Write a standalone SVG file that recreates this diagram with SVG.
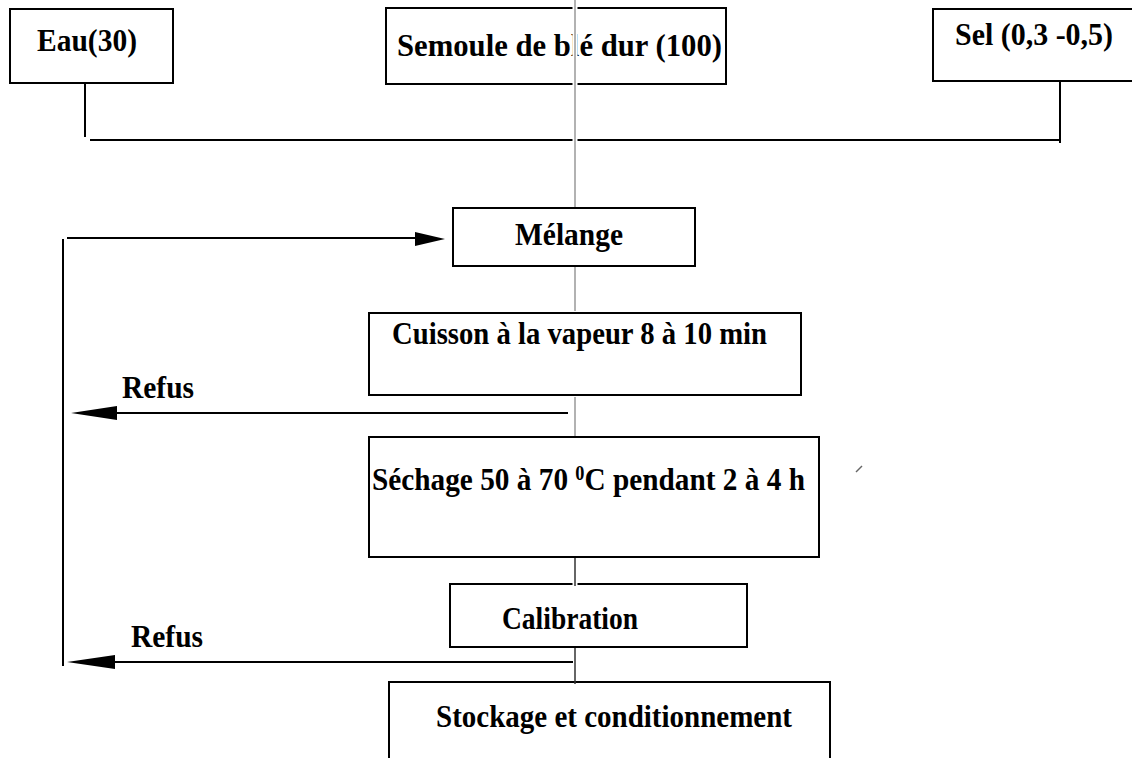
<svg xmlns="http://www.w3.org/2000/svg" width="1132" height="758" viewBox="0 0 1132 758">
<style>
.box{fill:#fff;stroke:#000;stroke-width:2}
.t{font-family:"Liberation Serif","Times New Roman",serif;font-weight:bold;font-size:32px;fill:#000}
.ln{stroke:#000;stroke-width:2;fill:none}
.halo{stroke:#fff;stroke-width:5;fill:none}
.gr{stroke:#999;stroke-width:1.5;fill:none}
.dk{stroke:#333;stroke-width:1.5;fill:none}
.ah{fill:#000}
</style>
<rect width="1132" height="758" fill="#fff"/>
<g id="eau">
<rect class="box" x="10" y="9" width="163" height="74"/>
<text class="t" x="37" y="51" textLength="100" lengthAdjust="spacingAndGlyphs">Eau(30)</text>
</g>
<g id="semoule">
<rect class="box" x="386" y="8" width="340" height="76"/>
<text class="t" x="397" y="56" textLength="325" lengthAdjust="spacingAndGlyphs">Semoule de blé dur (100)</text>
</g>
<g id="sel">
<rect class="box" x="933" y="9" width="210" height="72"/>
<text class="t" x="955" y="45" textLength="158" lengthAdjust="spacingAndGlyphs">Sel (0,3 -0,5)</text>
</g>
<g id="melange">
<rect class="box" x="453" y="208" width="242" height="58"/>
<text class="t" x="515" y="245" textLength="108" lengthAdjust="spacingAndGlyphs">Mélange</text>
</g>
<g id="cuisson">
<rect class="box" x="369" y="313" width="432" height="82"/>
<text class="t" x="392" y="344" textLength="375" lengthAdjust="spacingAndGlyphs">Cuisson à la vapeur 8 à 10 min</text>
</g>
<g id="sechage">
<rect class="box" x="369" y="437" width="450" height="120"/>
<text class="t" x="372" y="490" textLength="433" lengthAdjust="spacingAndGlyphs">Séchage 50 à 70 <tspan font-size="20" dy="-10">0</tspan><tspan dy="10">C pendant 2 à 4 h</tspan></text>
</g>
<g id="calibration">
<rect class="box" x="450" y="584" width="297" height="63"/>
<text class="t" x="502" y="629" textLength="136" lengthAdjust="spacingAndGlyphs">Calibration</text>
</g>
<g id="stockage">
<rect class="box" x="389" y="682" width="441" height="90"/>
<text class="t" x="436" y="727" textLength="356" lengthAdjust="spacingAndGlyphs">Stockage et conditionnement</text>
</g>
<g id="connectors">
<polyline class="ln" points="85,82 85,137"/>
<line class="ln" x1="90" y1="140" x2="1061" y2="140"/>
<polyline class="ln" points="1060,81 1060,143"/>
<line class="halo" x1="575" y1="0" x2="575" y2="207"/>
<line class="gr" x1="575" y1="0" x2="575" y2="207"/>
<line class="halo" x1="575" y1="267" x2="575" y2="311"/>
<line class="gr" x1="575" y1="267" x2="575" y2="311"/>
<line class="halo" x1="575" y1="397" x2="575" y2="436"/>
<line class="gr" x1="575" y1="397" x2="575" y2="436"/>
<line class="halo" x1="575" y1="579" x2="575" y2="586"/>
<line class="dk" x1="575" y1="558" x2="575" y2="586"/>
<line class="dk" x1="575" y1="648" x2="575" y2="684"/>
<line class="ln" x1="63" y1="239" x2="63" y2="666"/>
<line class="ln" x1="67" y1="238" x2="418" y2="238"/>
<polygon class="ah" points="445,239 415,232 415,246"/>
<line class="ln" x1="112" y1="413" x2="568" y2="413"/>
<polygon class="ah" points="71,413 117,406 117,420"/>
<line class="ln" x1="112" y1="662" x2="573" y2="662"/>
<polygon class="ah" points="67,662 115,655 115,669"/>
</g>
<text class="t" x="122" y="398" textLength="72" lengthAdjust="spacingAndGlyphs">Refus</text>
<text class="t" x="131" y="647" textLength="72" lengthAdjust="spacingAndGlyphs">Refus</text>
<line x1="856" y1="472" x2="862" y2="466" stroke="#666" stroke-width="1.5"/>
</svg>
